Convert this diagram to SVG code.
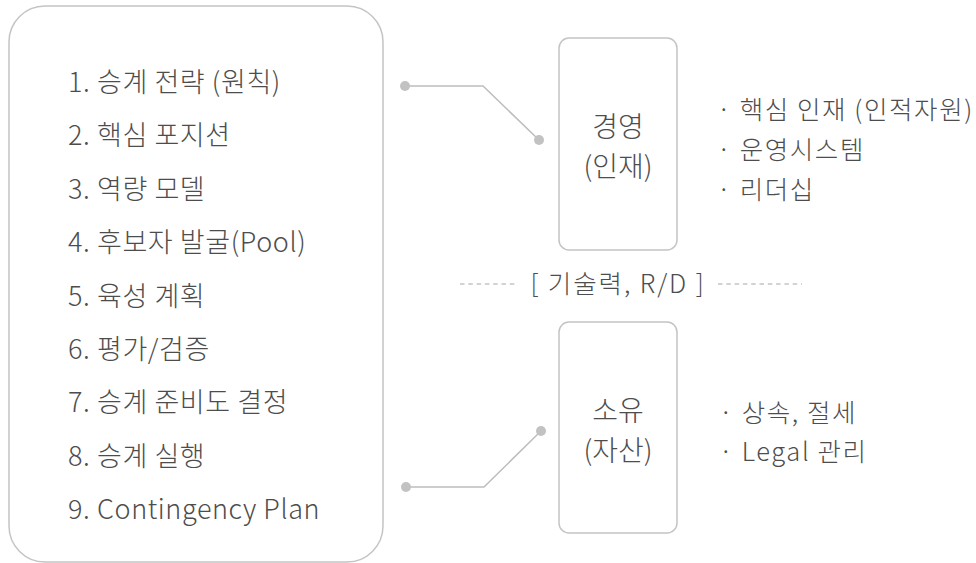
<svg xmlns="http://www.w3.org/2000/svg" width="976" height="563" viewBox="0 0 976 563">
<style>
.t{font-family:"Noto Sans CJK KR","Noto Sans",sans-serif;fill:#4d4d4d;font-weight:300;}
.lst{font-size:27px;letter-spacing:0.6px;}
.bul{font-size:25.5px;letter-spacing:1.6px;}
.mid{font-size:25.5px;letter-spacing:1.9px;text-anchor:middle;}
.lbl{font-size:28px;text-anchor:middle;}
.box{fill:#ffffff;stroke:#c4c4c4;stroke-width:1.5;}
.ln{fill:none;stroke:#bdbdbd;stroke-width:1.5;}
.dot{fill:#c2c2c2;}
.dash{fill:none;stroke:#a8a8a8;stroke-width:1.2;stroke-dasharray:4.5 3.8;}
</style>
<rect width="976" height="563" fill="#ffffff"/>
<g id="steps">
<rect class="box" x="9" y="6" width="374" height="556" rx="36"/>
<text class="t lst" x="68" y="92">1. 승계 전략 (원칙)</text>
<text class="t lst" x="68" y="145">2. 핵심 포지션</text>
<text class="t lst" x="68" y="199">3. 역량 모델</text>
<text class="t lst" x="68" y="252">4. 후보자 발굴(Pool)</text>
<text class="t lst" x="68" y="306">5. 육성 계획</text>
<text class="t lst" x="68" y="359">6. 평가/검증</text>
<text class="t lst" x="68" y="412">7. 승계 준비도 결정</text>
<text class="t lst" x="68" y="466">8. 승계 실행</text>
<text class="t lst" x="68" y="519">9. Contingency Plan</text>
</g>
<g id="connectors">
<polyline class="ln" points="405,86 483,86 539,140"/>
<circle class="dot" cx="405" cy="86" r="5"/>
<circle class="dot" cx="539" cy="140" r="5"/>
<polyline class="ln" points="406,487 484,487 541,431"/>
<circle class="dot" cx="406" cy="487" r="5"/>
<circle class="dot" cx="541" cy="431" r="5"/>
</g>
<g id="management">
<rect class="box" x="559" y="38" width="118" height="212" rx="10"/>
<text class="t lbl" x="618" y="137">경영</text>
<text class="t lbl" x="618" y="177">(인재)</text>
</g>
<g id="management-items">
<text class="t bul" x="717" y="119">· 핵심 인재 (인적자원)</text>
<text class="t bul" x="717" y="159">· 운영시스템</text>
<text class="t bul" x="717" y="199">· 리더십</text>
</g>
<g id="technology">
<line class="dash" x1="460" y1="284" x2="518" y2="284"/>
<line class="dash" x1="718" y1="284" x2="802" y2="284"/>
<text class="t mid" x="618" y="293">[ 기술력, R/D ]</text>
</g>
<g id="ownership">
<rect class="box" x="559" y="322" width="118" height="211" rx="10"/>
<text class="t lbl" x="618" y="421">소유</text>
<text class="t lbl" x="618" y="461">(자산)</text>
</g>
<g id="ownership-items">
<text class="t bul" x="719" y="422">· 상속, 절세</text>
<text class="t bul" x="719" y="461">· Legal 관리</text>
</g>
</svg>
